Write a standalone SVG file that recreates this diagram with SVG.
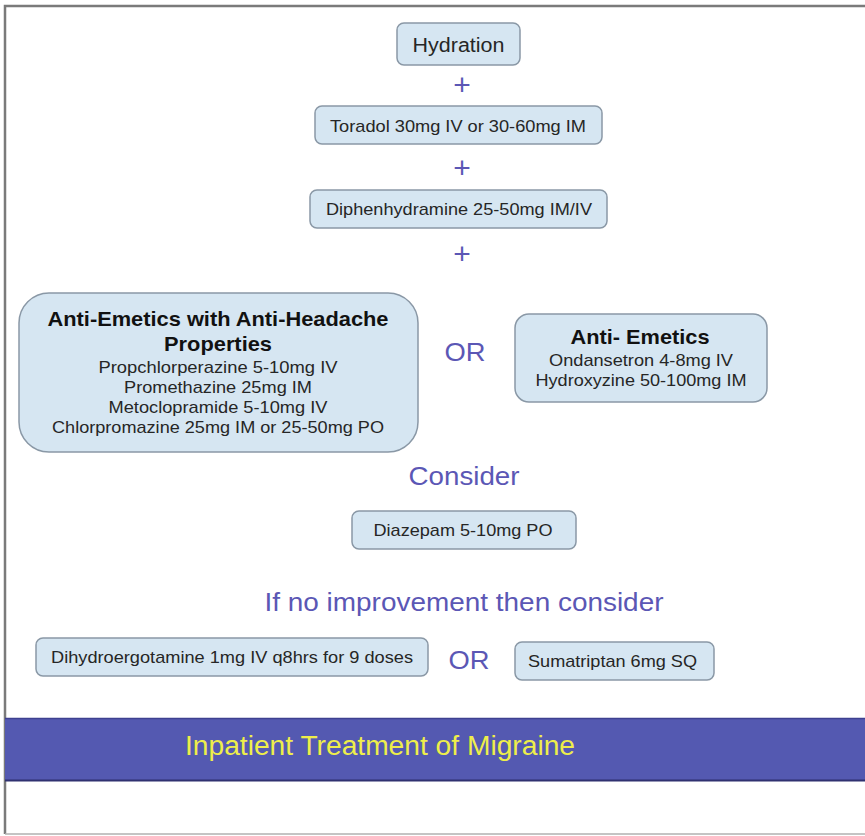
<svg xmlns="http://www.w3.org/2000/svg" width="865" height="836" viewBox="0 0 865 836">
<style>
.box{fill:#d6e6f2;stroke:#8a98a6;stroke-width:1.5}
.t{font-family:"Liberation Sans",Arial,sans-serif;fill:#262626;text-anchor:middle}
.b{font-weight:bold;fill:#111}
.p{font-family:"Liberation Sans",Arial,sans-serif;fill:#5b57b5;text-anchor:middle}
</style>
<rect width="865" height="836" fill="#ffffff"/>
<path d="M5,834 V6 H865" fill="none" stroke="#7a7a7a" stroke-width="2.5"/>
<line x1="5" y1="834" x2="865" y2="834" stroke="#b0b0b0" stroke-width="1.5"/>

<g id="connectors">
<text class="p" x="462" y="95" font-size="30">+</text>
<text class="p" x="462" y="178" font-size="30">+</text>
<text class="p" x="462" y="264" font-size="30">+</text>
<text class="p" x="465" y="361" font-size="26" textLength="41" lengthAdjust="spacingAndGlyphs">OR</text>
<text class="p" x="464" y="485" font-size="26" textLength="111" lengthAdjust="spacingAndGlyphs">Consider</text>
<text class="p" x="464" y="611" font-size="26" textLength="399" lengthAdjust="spacingAndGlyphs">If no improvement then consider</text>
<text class="p" x="469" y="669" font-size="26" textLength="41" lengthAdjust="spacingAndGlyphs">OR</text>
</g>

<g id="hydration">
<rect class="box" x="397" y="23" width="123" height="42" rx="7"/>
<text class="t" x="458.5" y="52" font-size="20" textLength="92" lengthAdjust="spacingAndGlyphs">Hydration</text>
</g>

<g id="toradol">
<rect class="box" x="315" y="106" width="287" height="38" rx="7"/>
<text class="t" x="458" y="132" font-size="17" textLength="256" lengthAdjust="spacingAndGlyphs">Toradol 30mg IV or 30-60mg IM</text>
</g>

<g id="diphenhydramine">
<rect class="box" x="310" y="190" width="297" height="38" rx="7"/>
<text class="t" x="459" y="215" font-size="17" textLength="266" lengthAdjust="spacingAndGlyphs">Diphenhydramine 25-50mg IM/IV</text>
</g>

<g id="antiemetics-headache">
<rect class="box" x="19" y="293" width="399" height="159" rx="30"/>
<text class="t b" x="218" y="326" font-size="21" textLength="341" lengthAdjust="spacingAndGlyphs">Anti-Emetics with Anti-Headache</text>
<text class="t b" x="218" y="351" font-size="21" textLength="108" lengthAdjust="spacingAndGlyphs">Properties</text>
<text class="t" x="218" y="373" font-size="17" textLength="239" lengthAdjust="spacingAndGlyphs">Propchlorperazine 5-10mg IV</text>
<text class="t" x="218" y="393" font-size="17" textLength="188" lengthAdjust="spacingAndGlyphs">Promethazine 25mg IM</text>
<text class="t" x="218" y="413" font-size="17" textLength="219" lengthAdjust="spacingAndGlyphs">Metoclopramide 5-10mg IV</text>
<text class="t" x="218" y="433" font-size="17" textLength="332" lengthAdjust="spacingAndGlyphs">Chlorpromazine 25mg IM or 25-50mg PO</text>
</g>

<g id="antiemetics">
<rect class="box" x="515" y="314" width="252" height="88" rx="14"/>
<text class="t b" x="640" y="344" font-size="21" textLength="139" lengthAdjust="spacingAndGlyphs">Anti- Emetics</text>
<text class="t" x="641" y="366" font-size="17" textLength="184" lengthAdjust="spacingAndGlyphs">Ondansetron 4-8mg IV</text>
<text class="t" x="641" y="386" font-size="17" textLength="211" lengthAdjust="spacingAndGlyphs">Hydroxyzine 50-100mg IM</text>
</g>

<g id="diazepam">
<rect class="box" x="352" y="511" width="224" height="38" rx="7"/>
<text class="t" x="463" y="536" font-size="17" textLength="179" lengthAdjust="spacingAndGlyphs">Diazepam 5-10mg PO</text>
</g>

<g id="dihydroergotamine">
<rect class="box" x="36" y="638" width="392" height="38" rx="7"/>
<text class="t" x="232" y="663" font-size="17" textLength="362" lengthAdjust="spacingAndGlyphs">Dihydroergotamine 1mg IV q8hrs for 9 doses</text>
</g>

<g id="sumatriptan">
<rect class="box" x="515" y="642" width="199" height="38" rx="7"/>
<text class="t" x="612.5" y="667" font-size="17" textLength="169" lengthAdjust="spacingAndGlyphs">Sumatriptan 6mg SQ</text>
</g>

<g id="title-band">
<rect x="5" y="718" width="860" height="63" fill="#5459b1"/>
<line x1="5" y1="718.5" x2="865" y2="718.5" stroke="#3e4090" stroke-width="1.5"/>
<line x1="5" y1="780.5" x2="865" y2="780.5" stroke="#2f3170" stroke-width="2"/>
<text x="185" y="755" font-family="'Liberation Sans',Arial,sans-serif" font-size="27" fill="#eeee4a" textLength="390" lengthAdjust="spacingAndGlyphs">Inpatient Treatment of Migraine</text>
</g>
</svg>
